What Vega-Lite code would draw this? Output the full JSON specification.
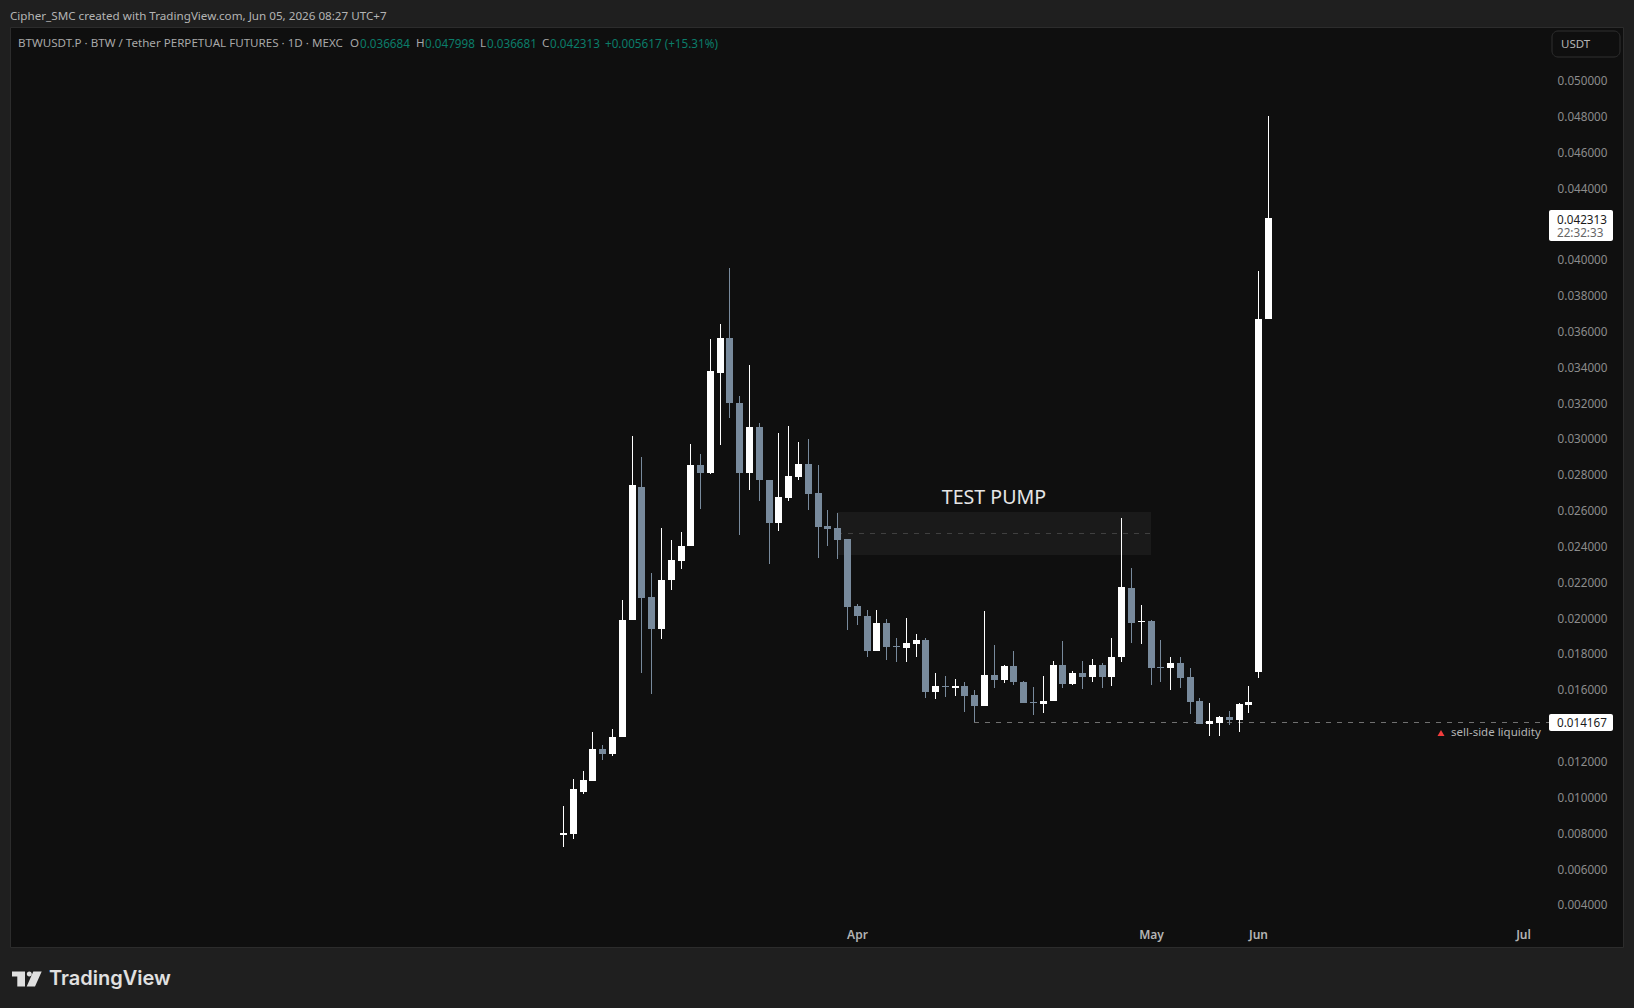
{
"$schema":"https://vega.github.io/schema/vega-lite/v6.json",
"width":1613,"height":920,
"autosize":{"type":"none"},
"padding":{"left":10,"top":27,"right":11,"bottom":61},
"background":"#1f1f1f",
"config":{"view":{"fill":"#0f0f0f","stroke":"#2c2c2c","strokeWidth":1},"text":{"font":"Noto Sans"}},
"data":{"values":[
{"i":0,"dir":"up","open":0.007843,"high":0.009498,"low":0.007181,"close":0.007998},
{"i":1,"dir":"up","open":0.007953,"high":0.010998,"low":0.007623,"close":0.010446},
{"i":2,"dir":"up","open":0.010292,"high":0.011439,"low":0.010181,"close":0.010954},
{"i":3,"dir":"up","open":0.010909,"high":0.013623,"low":0.010865,"close":0.012674},
{"i":4,"dir":"down","open":0.012674,"high":0.012895,"low":0.012079,"close":0.012365},
{"i":5,"dir":"up","open":0.01241,"high":0.013799,"low":0.0123,"close":0.013336},
{"i":6,"dir":"up","open":0.013314,"high":0.020991,"low":0.013314,"close":0.019866},
{"i":7,"dir":"up","open":0.019844,"high":0.030146,"low":0.019844,"close":0.02741},
{"i":8,"dir":"down","open":0.0273,"high":0.028955,"low":0.016932,"close":0.021101},
{"i":9,"dir":"down","open":0.021145,"high":0.022491,"low":0.015763,"close":0.019381},
{"i":10,"dir":"up","open":0.019381,"high":0.025006,"low":0.018829,"close":0.022094},
{"i":11,"dir":"up","open":0.022072,"high":0.024344,"low":0.021564,"close":0.023219},
{"i":12,"dir":"up","open":0.023175,"high":0.024785,"low":0.02269,"close":0.023991},
{"i":13,"dir":"up","open":0.023969,"high":0.029683,"low":0.023969,"close":0.028513},
{"i":14,"dir":"down","open":0.028513,"high":0.029131,"low":0.026065,"close":0.028072},
{"i":15,"dir":"up","open":0.028072,"high":0.03555,"low":0.028006,"close":0.033764},
{"i":16,"dir":"up","open":0.033675,"high":0.036389,"low":0.02966,"close":0.035595},
{"i":17,"dir":"down","open":0.035595,"high":0.039499,"low":0.031161,"close":0.031955},
{"i":18,"dir":"down","open":0.031977,"high":0.032374,"low":0.024587,"close":0.028072},
{"i":19,"dir":"up","open":0.028072,"high":0.034095,"low":0.027146,"close":0.030631},
{"i":20,"dir":"down","open":0.030631,"high":0.030852,"low":0.026484,"close":0.027653},
{"i":21,"dir":"down","open":0.027675,"high":0.027675,"low":0.02302,"close":0.025293},
{"i":22,"dir":"up","open":0.025293,"high":0.0303,"low":0.024851,"close":0.026726},
{"i":23,"dir":"up","open":0.026682,"high":0.030697,"low":0.026484,"close":0.027896},
{"i":24,"dir":"up","open":0.027852,"high":0.029793,"low":0.027697,"close":0.02858},
{"i":25,"dir":"down","open":0.02858,"high":0.029969,"low":0.026021,"close":0.026903},
{"i":26,"dir":"down","open":0.026947,"high":0.028513,"low":0.023307,"close":0.025072},
{"i":27,"dir":"down","open":0.025113,"high":0.026006,"low":0.024016,"close":0.024946},
{"i":28,"dir":"down","open":0.025002,"high":0.025857,"low":0.02329,"close":0.024332},
{"i":29,"dir":"down","open":0.024388,"high":0.024388,"low":0.019329,"close":0.020612},
{"i":30,"dir":"down","open":0.020649,"high":0.020761,"low":0.019608,"close":0.02011},
{"i":31,"dir":"down","open":0.020091,"high":0.020426,"low":0.017822,"close":0.018138},
{"i":32,"dir":"up","open":0.018138,"high":0.020426,"low":0.018138,"close":0.019701},
{"i":33,"dir":"down","open":0.019701,"high":0.019924,"low":0.017636,"close":0.018361},
{"i":34,"dir":"down","open":0.01844,"high":0.018864,"low":0.017524,"close":0.01838},
{"i":35,"dir":"up","open":0.018306,"high":0.01998,"low":0.017524,"close":0.018585},
{"i":36,"dir":"up","open":0.018529,"high":0.019087,"low":0.017803,"close":0.018752},
{"i":37,"dir":"down","open":0.018752,"high":0.018864,"low":0.015516,"close":0.01585},
{"i":38,"dir":"up","open":0.01585,"high":0.016911,"low":0.01546,"close":0.016185},
{"i":39,"dir":"down","open":0.016185,"high":0.016743,"low":0.015571,"close":0.016125},
{"i":40,"dir":"up","open":0.016074,"high":0.016576,"low":0.015627,"close":0.016185},
{"i":41,"dir":"down","open":0.016185,"high":0.016408,"low":0.014734,"close":0.015627},
{"i":42,"dir":"down","open":0.015683,"high":0.015962,"low":0.014167,"close":0.015069},
{"i":43,"dir":"up","open":0.015069,"high":0.02037,"low":0.015069,"close":0.016799},
{"i":44,"dir":"down","open":0.016799,"high":0.018473,"low":0.016074,"close":0.01652},
{"i":45,"dir":"up","open":0.01652,"high":0.017357,"low":0.016353,"close":0.017301},
{"i":46,"dir":"down","open":0.017301,"high":0.018138,"low":0.016241,"close":0.016408},
{"i":47,"dir":"down","open":0.016408,"high":0.016464,"low":0.015237,"close":0.015237},
{"i":48,"dir":"down","open":0.0153,"high":0.016129,"low":0.014567,"close":0.01524},
{"i":49,"dir":"up","open":0.015181,"high":0.016743,"low":0.014679,"close":0.015348},
{"i":50,"dir":"up","open":0.015348,"high":0.01758,"low":0.015348,"close":0.017357},
{"i":51,"dir":"down","open":0.017357,"high":0.018696,"low":0.016074,"close":0.016297},
{"i":52,"dir":"up","open":0.016297,"high":0.017022,"low":0.016241,"close":0.016911},
{"i":53,"dir":"down","open":0.016911,"high":0.01758,"low":0.016018,"close":0.016687},
{"i":54,"dir":"up","open":0.016687,"high":0.017692,"low":0.016408,"close":0.017357},
{"i":55,"dir":"down","open":0.017357,"high":0.017469,"low":0.016074,"close":0.016687},
{"i":56,"dir":"up","open":0.016687,"high":0.018864,"low":0.016185,"close":0.017803},
{"i":57,"dir":"up","open":0.017803,"high":0.02556,"low":0.017524,"close":0.021709},
{"i":58,"dir":"down","open":0.021654,"high":0.02277,"low":0.018585,"close":0.019701},
{"i":59,"dir":"up","open":0.01975,"high":0.020692,"low":0.018531,"close":0.01981},
{"i":60,"dir":"down","open":0.019799,"high":0.01987,"low":0.016229,"close":0.017192},
{"i":61,"dir":"down","open":0.017239,"high":0.018743,"low":0.016393,"close":0.017169},
{"i":62,"dir":"up","open":0.017192,"high":0.017803,"low":0.015947,"close":0.01745},
{"i":63,"dir":"down","open":0.01745,"high":0.017803,"low":0.016064,"close":0.016628},
{"i":64,"dir":"down","open":0.016675,"high":0.017192,"low":0.014608,"close":0.015289},
{"i":65,"dir":"down","open":0.015336,"high":0.015501,"low":0.014068,"close":0.014068},
{"i":66,"dir":"up","open":0.014068,"high":0.015219,"low":0.01341,"close":0.014232},
{"i":67,"dir":"up","open":0.014138,"high":0.014514,"low":0.01341,"close":0.014444},
{"i":68,"dir":"down","open":0.014444,"high":0.014773,"low":0.013997,"close":0.014303},
{"i":69,"dir":"up","open":0.014279,"high":0.015242,"low":0.013645,"close":0.015172},
{"i":70,"dir":"up","open":0.015125,"high":0.016182,"low":0.014702,"close":0.015289},
{"i":71,"dir":"up","open":0.016957,"high":0.039343,"low":0.016652,"close":0.036665},
{"i":72,"dir":"up","open":0.036684,"high":0.047998,"low":0.036681,"close":0.042313}
]},
"encoding":{
"x":{"field":"i","type":"quantitative","title":null,"scale":{"domain":[-56.476,108.254],"nice":false,"zero":false,"padding":0,"round":true},
"axis":{"values":[30,60,71,98],"labelExpr":"datum.value==30?'Apr':datum.value==60?'May':datum.value==71?'Jun':'Jul'","grid":false,"ticks":false,"domain":false,"labelPadding":-18,"labelColor":"#b4b4b4","labelFont":"Noto Sans","labelFontSize":12,"labelFontWeight":600,"labelOverlap":false,"labelFlush":false,"title":null}},
"y":{"field":"p","type":"quantitative","title":null,"scale":{"domain":[0.001621,0.052957],"nice":false,"zero":false,"round":true},
"axis":{"orient":"right","values":[0.004,0.006,0.008,0.01,0.012,0.016,0.018,0.02,0.022,0.024,0.026,0.028,0.03,0.032,0.034,0.036,0.038,0.04,0.044,0.046,0.048,0.05],"format":".6f","grid":false,"ticks":false,"domain":false,"labelAlign":"right","labelPadding":-16,"labelColor":"#8c8c8c","labelFont":"Noto Sans","labelFontSize":11.7,"labelOverlap":false,"labelFlush":false,"title":null}}
},
"layer":[
{"data":{"values":[{"i":28,"i2":60.1,"p":0.025894,"p2":0.023514}]},"mark":{"type":"rect","color":"#1a1a1a"},"encoding":{"x2":{"field":"i2"},"y2":{"field":"p2"}}},
{"data":{"values":[{"i":28,"i2":60.1,"p":0.024704}]},"mark":{"type":"rule","color":"#404040","strokeWidth":1,"strokeDash":[5,6],"yOffset":0.5},"encoding":{"x2":{"field":"i2"}}},
{"data":{"values":[{"i":42,"i2":100.7,"p":0.014167}]},"mark":{"type":"rule","color":"#707070","strokeWidth":1,"strokeDash":[5,6],"yOffset":0.5},"encoding":{"x2":{"field":"i2"}}},
{"mark":{"type":"rule","strokeWidth":1,"xOffset":0.5},"encoding":{"y":{"field":"low","type":"quantitative","title":null,"scale":{"domain":[0.001621,0.052957],"nice":false,"zero":false,"round":true}},"y2":{"field":"high"},"color":{"field":"dir","type":"nominal","legend":null,"scale":{"domain":["up","down"],"range":["#ffffff","#788a9c"]}}}},
{"mark":{"type":"bar","size":7,"orient":"vertical","xOffset":0.5},"encoding":{"y":{"field":"open","type":"quantitative","title":null,"scale":{"domain":[0.001621,0.052957],"nice":false,"zero":false,"round":true}},"y2":{"field":"close"},"color":{"field":"dir","type":"nominal","legend":null,"scale":{"domain":["up","down"],"range":["#ffffff","#788a9c"]}}}},
{"data":{"values":[{"i":100.68,"i2":107.19,"p":0.014623,"p2":0.013691},{"i":100.68,"i2":107.19,"p":0.042746,"p2":0.041033}]},"mark":{"type":"rect","color":"#ffffff","cornerRadius":2},"encoding":{"x2":{"field":"i2"},"y2":{"field":"p2"}}},
{"data":{"values":[{"i":100.96,"i2":107.94,"p":0.052751,"p2":0.051283}]},"mark":{"type":"rect","fill":"#0f0f0f","stroke":"#303030","strokeWidth":1,"cornerRadius":6},"encoding":{"x2":{"field":"i2"},"y2":{"field":"p2"}}},
{"data":{"values":[{"i":101.5,"p":0.014093,"label":"0.014167"},{"i":101.5,"p":0.042188,"label":"0.042313"}]},"mark":{"type":"text","align":"left","baseline":"middle","fontSize":11.7,"color":"#1a1a1a","font":"Noto Sans"},"encoding":{"text":{"field":"label"}}},
{"data":{"values":[{"i":101.5,"p":0.041463,"label":"22:32:33"}]},"mark":{"type":"text","align":"left","baseline":"middle","fontSize":11.7,"color":"#666666","font":"Noto Sans"},"encoding":{"text":{"field":"label"}}},
{"data":{"values":[{"i":101.9,"p":0.051953,"label":"USDT"}]},"mark":{"type":"text","align":"left","baseline":"middle","fontSize":11.5,"color":"#b4b4b4","font":"Noto Sans"},"encoding":{"text":{"field":"label"}}},
{"data":{"values":[{"i":43.99,"p":0.026675,"label":"TEST PUMP"}]},"mark":{"type":"text","align":"center","baseline":"middle","fontSize":19.6,"color":"#e6e6e6","font":"Noto Sans"},"encoding":{"text":{"field":"label"}}},
{"data":{"values":[{"i":89.65,"p":0.013562}]},"mark":{"type":"point","shape":"triangle-up","filled":true,"size":49,"color":"#f23d3d","opacity":1}},
{"data":{"values":[{"i":90.67,"p":0.013562,"label":"sell-side liquidity"}]},"mark":{"type":"text","align":"left","baseline":"middle","fontSize":11.5,"color":"#b4b4b4","font":"Noto Sans"},"encoding":{"text":{"field":"label"}}},
{"data":{"values":[{"i":-56.476,"p":0.053515,"label":"Cipher_SMC created with TradingView.com, Jun 05, 2026 08:27 UTC+7"}]},"mark":{"type":"text","align":"left","baseline":"middle","fontSize":11.65,"color":"#b4b4b4","font":"Noto Sans"},"encoding":{"text":{"field":"label"}}},
{"data":{"values":[{"i":-55.66,"p":0.052009,"label":"BTWUSDT.P · BTW / Tether PERPETUAL FUTURES · 1D · MEXC"},{"i":-21.74,"p":0.052009,"label":"O"},{"i":-15.05,"p":0.052009,"label":"H"},{"i":-8.51,"p":0.052009,"label":"L"},{"i":-2.17,"p":0.052009,"label":"C"}]},"mark":{"type":"text","align":"left","baseline":"middle","fontSize":11.6,"color":"#a8a8a8","font":"Noto Sans"},"encoding":{"text":{"field":"label"}}},
{"data":{"values":[{"i":-20.77,"p":0.052009,"label":"0.036684"},{"i":-14.13,"p":0.052009,"label":"0.047998"},{"i":-7.79,"p":0.052009,"label":"0.036681"},{"i":-1.36,"p":0.052009,"label":"0.042313"},{"i":4.26,"p":0.052009,"label":"+0.005617 (+15.31%)"}]},"mark":{"type":"text","align":"left","baseline":"middle","fontSize":11.7,"color":"#0b7d6a","font":"Noto Sans"},"encoding":{"text":{"field":"label"}}},
{"data":{"values":[{"i":-54.73,"p":-0.000137}]},"mark":{"type":"point","filled":true,"size":4,"color":"#e0e0e0","opacity":1,"strokeWidth":0,"shape":"M-15 -7.5H-2V7.5H-9.7V-2.5H-15ZM-0.2 -5a2.5 2.5 0 1 0 5 0a2.5 2.5 0 1 0 -5 0ZM6.3 -7.5H14.7L8 7.5H-0.3Z"}},
{"data":{"values":[{"i":-52.5,"p":-0.000137,"label":"TradingView"}]},"mark":{"type":"text","align":"left","baseline":"middle","fontSize":20,"fontWeight":600,"color":"#e0e0e0","font":"Inter"},"encoding":{"text":{"field":"label"}}}
]
}
